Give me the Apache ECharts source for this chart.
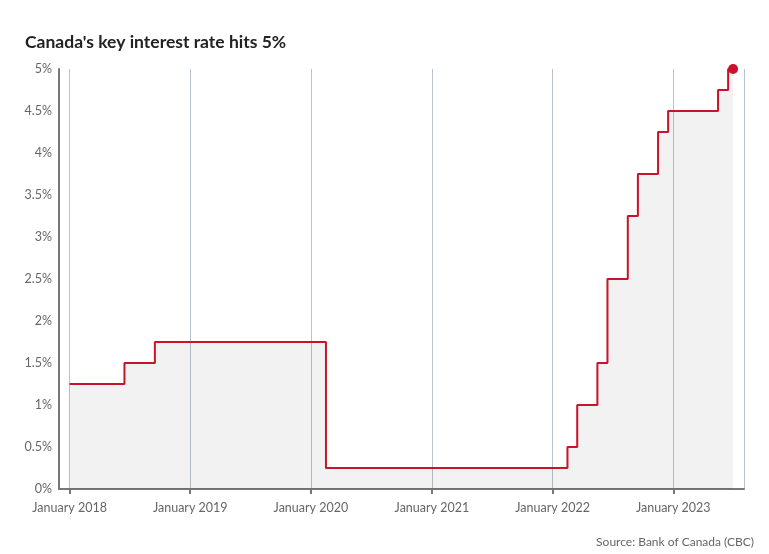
<!DOCTYPE html>
<html>
<head>
<meta charset="utf-8">
<script src="https://cdn.jsdelivr.net/npm/echarts@6/dist/echarts.min.js"></script>
<style>
html,body{margin:0;padding:0;background:#fff;}
#chart{width:769px;height:554px;}
</style>
</head>
<body>
<div id="chart"></div>
<script>
// Monthly key interest rate (%), one value per month starting January 2018
var startYear = 2018;
var startMonth = 0; // January
var rates = [
  // 2018
  1.25, 1.25, 1.25, 1.25, 1.25, 1.25, 1.5, 1.5, 1.5, 1.75, 1.75, 1.75,
  // 2019
  1.75, 1.75, 1.75, 1.75, 1.75, 1.75, 1.75, 1.75, 1.75, 1.75, 1.75, 1.75,
  // 2020
  1.75, 1.75, 0.25, 0.25, 0.25, 0.25, 0.25, 0.25, 0.25, 0.25, 0.25, 0.25,
  // 2021
  0.25, 0.25, 0.25, 0.25, 0.25, 0.25, 0.25, 0.25, 0.25, 0.25, 0.25, 0.25,
  // 2022
  0.25, 0.25, 0.5, 1.0, 1.0, 1.5, 2.5, 2.5, 3.25, 3.75, 3.75, 4.25,
  // 2023
  4.5, 4.5, 4.5, 4.5, 4.5, 4.75, 5.0
];
var yTicks = [0, 0.5, 1, 1.5, 2, 2.5, 3, 3.5, 4, 4.5, 5];
var xTickYears = [2018, 2019, 2020, 2021, 2022, 2023];
var monthNames = ['January','February','March','April','May','June','July','August','September','October','November','December'];

var seriesData = rates.map(function (v, i) {
  var m = startMonth + i;
  var y = startYear + Math.floor(m / 12);
  return [Date.UTC(y, m % 12, 1), v];
});
var last = seriesData[seriesData.length - 1];

var chart = echarts.init(document.getElementById('chart'));
var font = 'Lato, "Noto Sans", sans-serif';
chart.setOption({
  animation: false,
  backgroundColor: '#ffffff',
  title: {
    text: "Canada's key interest rate hits 5%",
    left: 20, top: 28,
    textStyle: { fontFamily: font, fontSize: 17.5, fontWeight: 'bold', color: '#222' }
  },
  graphic: [{
    type: 'text', right: 15, top: 536,
    style: { text: 'Source: Bank of Canada (CBC)', fontFamily: font, fontSize: 12, fill: '#666' }
  }],
  grid: { left: 59, right: 25, top: 69, bottom: 65 },
  xAxis: {
    type: 'time',
    min: Date.UTC(2017, 10, 30),
    max: Date.UTC(2023, 7, 3),
    minInterval: 365 * 24 * 3600 * 1000,
    maxInterval: 366 * 24 * 3600 * 1000,
    axisLine: { show: true, lineStyle: { color: '#777', width: 2 } },
    axisTick: { show: true, length: 5, lineStyle: { color: '#777', width: 2 } },
    axisLabel: {
      margin: 12, color: '#666', fontFamily: font, fontSize: 12.5,
      formatter: function (val) {
        var d = new Date(val);
        if (xTickYears.indexOf(d.getUTCFullYear()) < 0) return '';
        return monthNames[d.getUTCMonth()] + ' ' + d.getUTCFullYear();
      }
    },
    splitLine: { show: true, lineStyle: { color: '#b9c3cc', width: 1 } }
  },
  yAxis: {
    type: 'value',
    min: yTicks[0], max: yTicks[yTicks.length - 1], interval: 0.5,
    axisLine: { show: true, lineStyle: { color: '#777', width: 2 } },
    axisTick: { show: false },
    splitLine: { show: false },
    axisLabel: {
      margin: 7, color: '#666', fontFamily: font, fontSize: 12.5,
      formatter: function (v) { return v + '%'; }
    }
  },
  series: [{
    type: 'line',
    step: 'middle',
    data: seriesData,
    showSymbol: false,
    symbol: 'none',
    lineStyle: { color: '#c8142a', width: 2 },
    areaStyle: { color: 'rgba(0,0,0,0.075)' },
    z: 3
  }, {
    type: 'scatter',
    data: [last],
    symbolSize: 10,
    itemStyle: { color: '#c8142a', opacity: 1 },
    z: 4
  }]
});
</script>
</body>
</html>
